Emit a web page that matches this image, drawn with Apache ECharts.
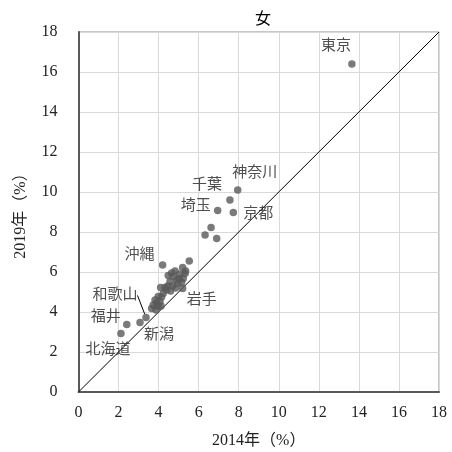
<!DOCTYPE html>
<html><head><meta charset="utf-8">
<script src="https://cdn.jsdelivr.net/npm/echarts@6/dist/echarts.min.js"></script>
<style>html,body{margin:0;padding:0;background:#fff}#c{width:452px;height:452px}</style>
</head><body><div id="c"></div>
<script>
const titleText = '女';
const xName = '2014年（%）';
const yName = '2019年（%）';
const axisMin = 0, axisMax = 18, axisStep = 2;

// labelled prefectures
const labelledNames = ['東京','神奈川','千葉','埼玉','京都','沖縄','岩手','和歌山','福井','新潟','北海道'];
const labelledX =     [13.65, 7.95, 7.56, 6.95, 7.73, 4.20, 5.20, 3.37, 2.41, 3.07, 2.12];
const labelledY =     [16.40, 10.10, 9.60, 9.07, 8.97, 6.35, 5.18, 3.73, 3.38, 3.48, 2.93];
// label shifts (style only)
const labelShifts = [[-16,-18],[17,-17],[-23,-15],[-22,-5],[25,1],[-23,-10],[19,12],[-31,-22],[-21,-7],[19,13],[-13,17]];

// other prefectures
const otherX = [6.62, 6.32, 6.90, 5.53, 4.82, 5.20, 5.32, 4.48, 4.73, 5.03, 5.23, 4.57, 4.95, 5.15, 4.32, 4.10,
                4.23, 3.98, 3.82, 4.07, 3.73, 3.98, 3.65, 3.87, 4.65, 5.05, 4.90, 4.45, 4.70, 4.15, 4.40, 3.90,
                4.60, 5.35, 4.85, 4.12];
const otherY = [8.22, 7.85, 7.68, 6.55, 6.05, 6.22, 5.93, 5.82, 5.77, 5.68, 5.68, 5.52, 5.43, 5.48, 5.22, 5.22,
                4.93, 4.77, 4.60, 4.52, 4.35, 4.27, 4.18, 4.10, 5.95, 5.90, 5.60, 5.30, 5.30, 4.75, 5.10, 4.45,
                5.05, 6.05, 5.20, 4.30];

const FONT = '"Liberation Serif","Noto Sans CJK JP",serif';
const dotColor = '#595959';

const labelledData = labelledNames.map((n, i) => {
  const d = {name: n, value: [labelledX[i], labelledY[i]]};
  if (n === '和歌山') {
    d.labelLine = {show: true, lineStyle: {color: '#000', width: 1}};
  }
  return d;
});
const otherData = otherX.map((x, i) => [x, otherY[i]]);

const chart = echarts.init(document.getElementById('c'));
chart.setOption({
  animation: false,
  title: {text: titleText, left: 258, top: 7, textAlign: 'center',
    textStyle: {fontFamily: FONT, fontSize: 16, fontWeight: 'normal', color: '#000'}},
  grid: {left: 78.5, right: 13, top: 32, bottom: 60, show: true, borderColor: '#8c8c8c', borderWidth: 1,
    containLabel: false, outerBoundsMode: 'none'},
  xAxis: {type: 'value', min: axisMin, max: axisMax, interval: axisStep,
    name: xName, nameLocation: 'middle', nameGap: 41,
    nameTextStyle: {fontFamily: FONT, fontSize: 16, color: '#222'},
    axisLine: {show: true, onZero: false, lineStyle: {color: '#595959', width: 2}},
    axisTick: {show: false},
    axisLabel: {fontFamily: FONT, fontSize: 16, color: '#222', margin: 13},
    splitLine: {show: true, lineStyle: {color: '#d9d9d9', width: 1}}},
  yAxis: {type: 'value', min: axisMin, max: axisMax, interval: axisStep,
    name: yName, nameLocation: 'middle', nameGap: 50, nameRotate: 90,
    nameTextStyle: {fontFamily: FONT, fontSize: 16, color: '#222'},
    axisLine: {show: true, onZero: false, lineStyle: {color: '#595959', width: 2}},
    axisTick: {show: false},
    axisLabel: {fontFamily: FONT, fontSize: 16, color: '#222', margin: 21},
    splitLine: {show: true, lineStyle: {color: '#d9d9d9', width: 1}}},
  series: [
    {type: 'line', data: [[axisMin, axisMin],[axisMax, axisMax]], symbol: 'none', silent: true,
      lineStyle: {color: '#000', width: 1}, z: 1},
    {type: 'scatter', data: otherData, symbolSize: 7.5, itemStyle: {color: dotColor}, z: 3},
    {type: 'scatter', data: labelledData, symbolSize: 7.5, itemStyle: {color: dotColor}, z: 3,
      label: {show: true, position: 'inside', formatter: '{b}', fontFamily: FONT, fontSize: 15, color: '#222'},
      labelLine: {show: false},
      labelLayout: function (p) {
        const s = labelShifts[p.dataIndex];
        return {dx: s[0], dy: s[1]};
      }}
  ]
});
</script></body></html>
